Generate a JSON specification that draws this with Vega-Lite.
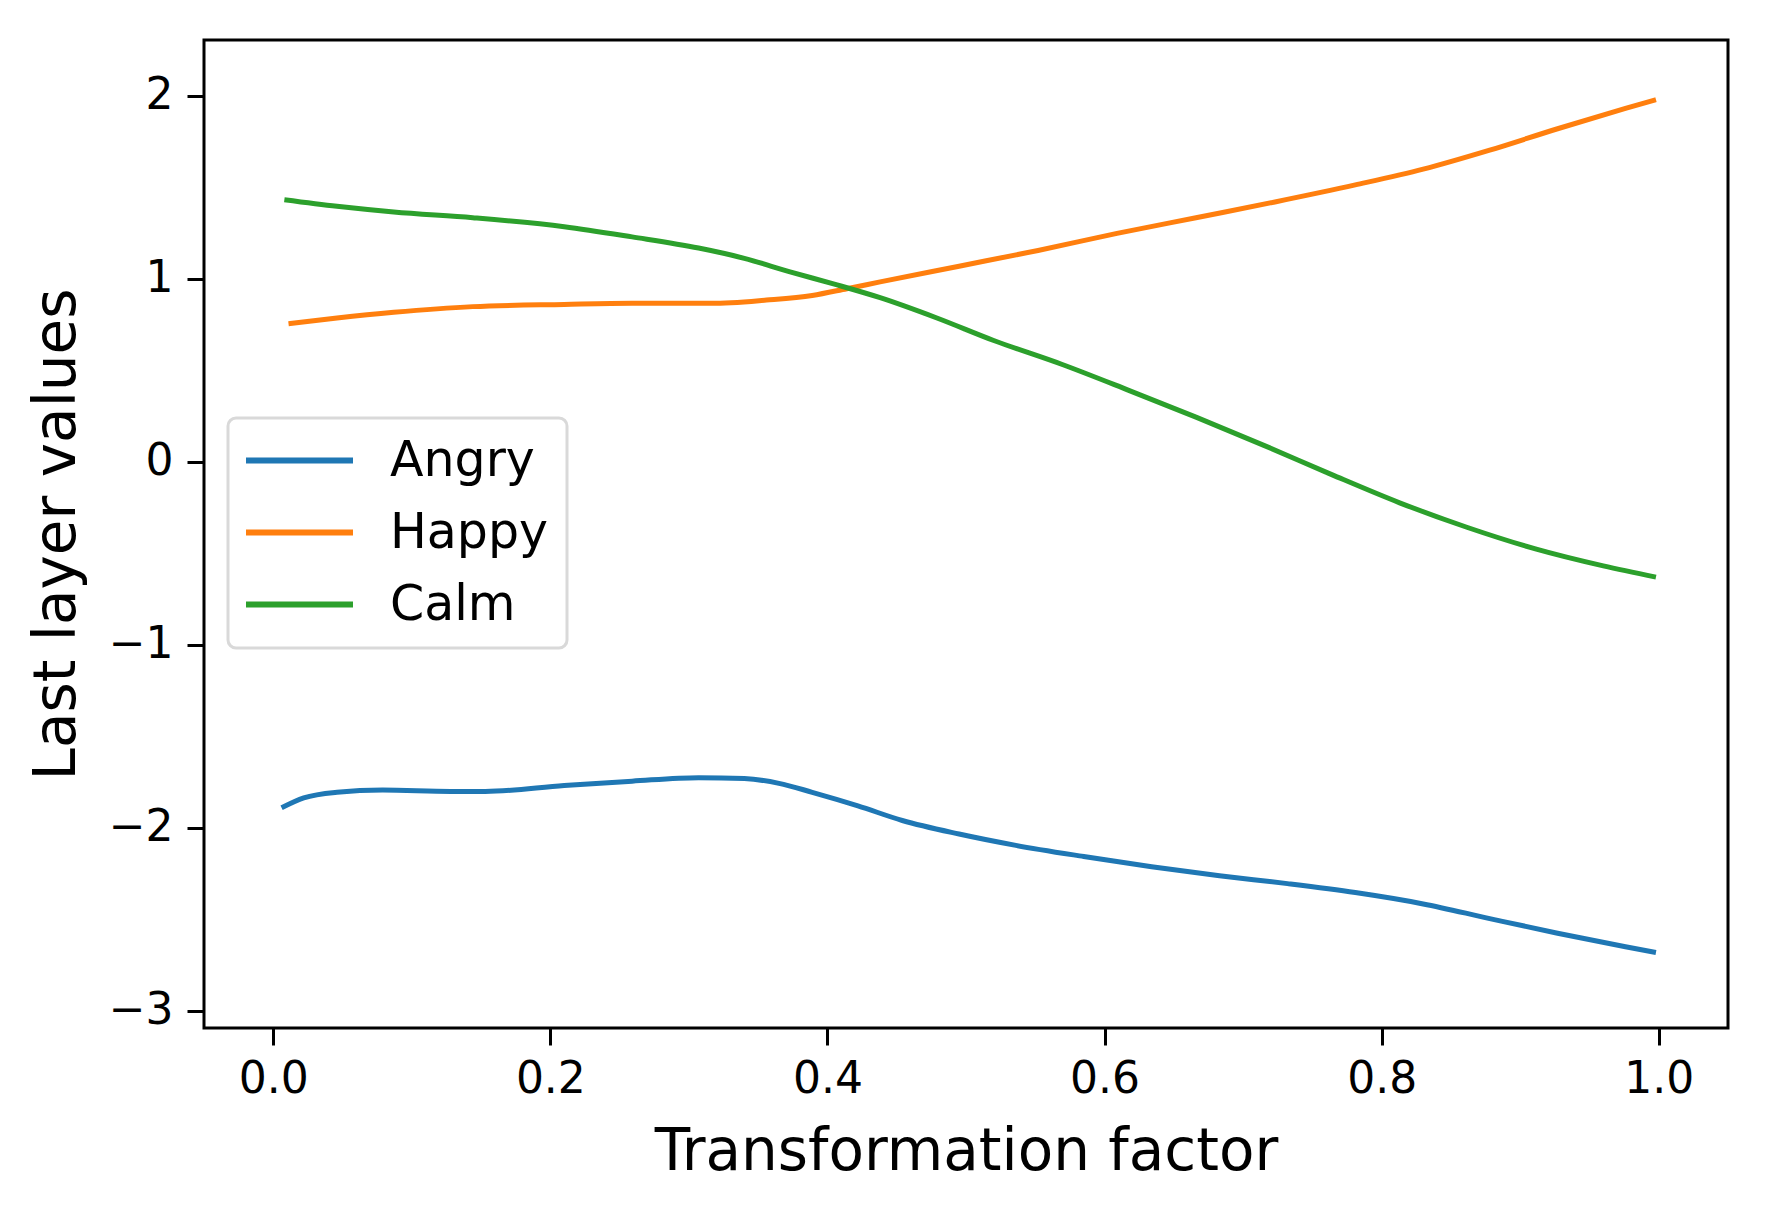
{
  "$schema": "https://vega.github.io/schema/vega-lite/v6.json",
  "width": 1524,
  "height": 988,
  "autosize": {"type": "none"},
  "padding": {"left": 204, "top": 40, "right": 40, "bottom": 186},
  "background": "white",
  "config": {
    "font": "DejaVu Sans",
    "view": {"stroke": "black", "strokeWidth": 3},
    "axis": {
      "domain": false,
      "grid": false,
      "tickColor": "black",
      "tickWidth": 3,
      "tickSize": 17,
      "labelColor": "black",
      "labelFontSize": 44,
      "labelFont": "DejaVu Sans",
      "titleFont": "DejaVu Sans",
      "titleFontSize": 58,
      "titleFontWeight": "normal",
      "titleColor": "black"
    }
  },
  "data": {
    "values": [
      {"emotion": "Angry", "factor": 0.006, "value": -1.89},
      {"emotion": "Angry", "factor": 0.022, "value": -1.836},
      {"emotion": "Angry", "factor": 0.046, "value": -1.805},
      {"emotion": "Angry", "factor": 0.079, "value": -1.793},
      {"emotion": "Angry", "factor": 0.128, "value": -1.8},
      {"emotion": "Angry", "factor": 0.153, "value": -1.8},
      {"emotion": "Angry", "factor": 0.21, "value": -1.768},
      {"emotion": "Angry", "factor": 0.259, "value": -1.744},
      {"emotion": "Angry", "factor": 0.307, "value": -1.725},
      {"emotion": "Angry", "factor": 0.34, "value": -1.73},
      {"emotion": "Angry", "factor": 0.365, "value": -1.756},
      {"emotion": "Angry", "factor": 0.389, "value": -1.805},
      {"emotion": "Angry", "factor": 0.422, "value": -1.879},
      {"emotion": "Angry", "factor": 0.454, "value": -1.959},
      {"emotion": "Angry", "factor": 0.495, "value": -2.033},
      {"emotion": "Angry", "factor": 0.536, "value": -2.095},
      {"emotion": "Angry", "factor": 0.585, "value": -2.156},
      {"emotion": "Angry", "factor": 0.634, "value": -2.212},
      {"emotion": "Angry", "factor": 0.683, "value": -2.261},
      {"emotion": "Angry", "factor": 0.732, "value": -2.304},
      {"emotion": "Angry", "factor": 0.781, "value": -2.353},
      {"emotion": "Angry", "factor": 0.83, "value": -2.415},
      {"emotion": "Angry", "factor": 0.878, "value": -2.495},
      {"emotion": "Angry", "factor": 0.927, "value": -2.575},
      {"emotion": "Angry", "factor": 0.976, "value": -2.649},
      {"emotion": "Angry", "factor": 0.998, "value": -2.68},
      {"emotion": "Happy", "factor": 0.011, "value": 0.756},
      {"emotion": "Happy", "factor": 0.046, "value": 0.787},
      {"emotion": "Happy", "factor": 0.087, "value": 0.818},
      {"emotion": "Happy", "factor": 0.144, "value": 0.849},
      {"emotion": "Happy", "factor": 0.21, "value": 0.861},
      {"emotion": "Happy", "factor": 0.259, "value": 0.867},
      {"emotion": "Happy", "factor": 0.316, "value": 0.867},
      {"emotion": "Happy", "factor": 0.356, "value": 0.885},
      {"emotion": "Happy", "factor": 0.389, "value": 0.91},
      {"emotion": "Happy", "factor": 0.414, "value": 0.947},
      {"emotion": "Happy", "factor": 0.438, "value": 0.984},
      {"emotion": "Happy", "factor": 0.495, "value": 1.07},
      {"emotion": "Happy", "factor": 0.552, "value": 1.156},
      {"emotion": "Happy", "factor": 0.609, "value": 1.249},
      {"emotion": "Happy", "factor": 0.666, "value": 1.335},
      {"emotion": "Happy", "factor": 0.723, "value": 1.421},
      {"emotion": "Happy", "factor": 0.781, "value": 1.514},
      {"emotion": "Happy", "factor": 0.83, "value": 1.6},
      {"emotion": "Happy", "factor": 0.878, "value": 1.704},
      {"emotion": "Happy", "factor": 0.927, "value": 1.821},
      {"emotion": "Happy", "factor": 0.976, "value": 1.932},
      {"emotion": "Happy", "factor": 0.998, "value": 1.98},
      {"emotion": "Calm", "factor": 0.008, "value": 1.433},
      {"emotion": "Calm", "factor": 0.046, "value": 1.397},
      {"emotion": "Calm", "factor": 0.087, "value": 1.366},
      {"emotion": "Calm", "factor": 0.144, "value": 1.335},
      {"emotion": "Calm", "factor": 0.21, "value": 1.286},
      {"emotion": "Calm", "factor": 0.259, "value": 1.23},
      {"emotion": "Calm", "factor": 0.307, "value": 1.169},
      {"emotion": "Calm", "factor": 0.34, "value": 1.113},
      {"emotion": "Calm", "factor": 0.373, "value": 1.039},
      {"emotion": "Calm", "factor": 0.405, "value": 0.972},
      {"emotion": "Calm", "factor": 0.438, "value": 0.898},
      {"emotion": "Calm", "factor": 0.479, "value": 0.787},
      {"emotion": "Calm", "factor": 0.52, "value": 0.664},
      {"emotion": "Calm", "factor": 0.569, "value": 0.534},
      {"emotion": "Calm", "factor": 0.617, "value": 0.393},
      {"emotion": "Calm", "factor": 0.666, "value": 0.245},
      {"emotion": "Calm", "factor": 0.715, "value": 0.091},
      {"emotion": "Calm", "factor": 0.764, "value": -0.069},
      {"emotion": "Calm", "factor": 0.813, "value": -0.223},
      {"emotion": "Calm", "factor": 0.862, "value": -0.358},
      {"emotion": "Calm", "factor": 0.911, "value": -0.475},
      {"emotion": "Calm", "factor": 0.96, "value": -0.568},
      {"emotion": "Calm", "factor": 0.998, "value": -0.629}
    ]
  },
  "mark": {"type": "line", "interpolate": "monotone", "strokeWidth": 5},
  "encoding": {
    "x": {
      "field": "factor",
      "type": "quantitative",
      "title": "Transformation factor",
      "scale": {"domain": [-0.05, 1.05], "nice": false, "zero": false},
      "axis": {
        "values": [0, 0.2, 0.4, 0.6, 0.8, 1.0],
        "format": ".1f",
        "labelPadding": 12,
        "titlePadding": 22
      }
    },
    "y": {
      "field": "value",
      "type": "quantitative",
      "title": "Last layer values",
      "scale": {"domain": [-3.093, 2.306], "nice": false, "zero": false},
      "axis": {
        "values": [-3, -2, -1, 0, 1, 2],
        "format": "d",
        "labelPadding": 14,
        "titlePadding": 22
      }
    },
    "color": {
      "field": "emotion",
      "type": "nominal",
      "sort": ["Angry", "Happy", "Calm"],
      "scale": {
        "domain": ["Angry", "Happy", "Calm"],
        "range": ["#1f77b4", "#ff7f0e", "#2ca02c"]
      },
      "legend": {
        "title": null,
        "orient": "none",
        "legendX": 24,
        "legendY": 378,
        "symbolType": "M-5.35,0H5.35",
        "symbolSize": 400,
        "symbolStrokeWidth": 6,
        "symbolOffset": 29,
        "labelFontSize": 49,
        "labelFont": "DejaVu Sans",
        "labelColor": "black",
        "labelOffset": 66,
        "rowPadding": 22,
        "padding": 18,
        "fillColor": "white",
        "strokeColor": "#d9d9d9",
        "cornerRadius": 8,
        "encode": {
          "legend": {"update": {"strokeWidth": {"value": 3}}}
        }
      }
    }
  }
}
